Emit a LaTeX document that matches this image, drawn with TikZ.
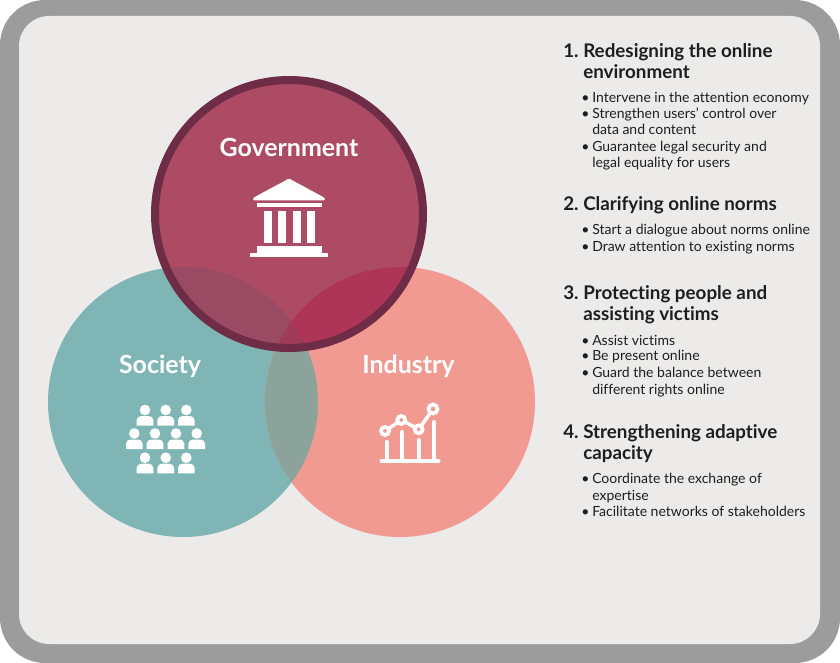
\documentclass[tikz,border=0pt]{standalone}
\usepackage{fontspec}
\setmainfont[Ligatures=NoCommon]{Lato}
\definecolor{framegray}{HTML}{9C9C9C}
\definecolor{panel}{HTML}{ECEBE9}
\definecolor{teal}{HTML}{7FB6B5}
\definecolor{salmon}{HTML}{F09A92}
\definecolor{gov}{HTML}{AD4A64}
\definecolor{ring}{HTML}{6F2C46}
\definecolor{tealsalmon}{HTML}{8CA39B}
\definecolor{govteal}{HTML}{9A4A63}
\definecolor{govsalmon}{HTML}{AE3558}
\definecolor{govboth}{HTML}{A03C5A}
\definecolor{txt}{HTML}{1E1E1E}
\tikzset{
  circlabel/.style={text=white,font=\fontsize{18.7}{20}\selectfont\bfseries,anchor=base,inner sep=0pt},
  headtext/.style={text=txt,font=\fontsize{14.1}{15}\selectfont\bfseries,anchor=base west,inner sep=0pt},
  bodytext/.style={text=txt,font=\fontsize{10.5}{12}\selectfont,anchor=base west,inner sep=0pt},
  iconline/.style={draw=white,line width=3pt,line cap=round},
  dotring/.style={draw=white,line width=2.8pt,fill=salmon}
}
\newcommand{\person}[2]{%
  \fill[white] (#1,#2) circle (5.3);
  \fill[white] (#1-8.3,#2+15.6) -- (#1-8.3,#2+10) to[out=90,in=180] (#1-3.5,#2+6) -- (#1+3.5,#2+6) to[out=0,in=90] (#1+8.3,#2+10) -- (#1+8.3,#2+15.6) -- cycle;
}
\begin{document}
\begin{tikzpicture}[x=0.75pt,y=-0.75pt]
\useasboundingbox (0,0) rectangle (840,663);
\fill[white] (0,0) rectangle (840,663);
\fill[framegray,rounded corners=33.75pt] (0,0) rectangle (840,663);
\fill[panel,rounded corners=22.5pt] (19,16) rectangle (820,644);
% circles
\coordinate (cs) at (183,402);
\coordinate (ci) at (400,402);
\coordinate (cg) at (289,214);
\fill[teal] (cs) circle (135);
\fill[salmon] (ci) circle (135);
\begin{scope}
  \clip (cs) circle (135);
  \fill[tealsalmon] (ci) circle (135);
\end{scope}
\fill[gov] (cg) circle (134);
\begin{scope}
  \clip (cg) circle (134);
  \fill[govteal] (cs) circle (135);
  \fill[govsalmon] (ci) circle (135);
  \begin{scope}
    \clip (cs) circle (135);
    \fill[govboth] (ci) circle (135);
  \end{scope}
\end{scope}
\draw[ring,line width=6pt] (cg) circle (134);
\node[circlabel] (government) at (289,156.5) {Government};
\node[circlabel] (society) at (160,373.5) {Society};
\node[circlabel] (industry) at (408.5,373.5) {Industry};
% government icon
\fill[white,rounded corners=1pt] (289,178.5) -- (325,198) -- (325,200.5) -- (253,200.5) -- (253,198) -- cycle;
\fill[white] (257,203) rectangle (321.5,207);
\foreach \cx in {268,282,296.5,311} \fill[white] (\cx-4,211) rectangle (\cx+4,243);
\fill[white] (257,246) rectangle (322,253);
\fill[white] (250,253) rectangle (328,257);
% society icon
\foreach \px in {145,165.7,186.3} {\person{\px}{410}\person{\px}{457.7}}
\foreach \px in {134.3,155,176,196.7} {\person{\px}{433.5}}
% industry icon
\draw[iconline] (381.5,461) -- (438.5,461);
\draw[iconline] (386.7,461) -- (386.7,442);
\draw[iconline] (401.7,461) -- (401.7,432);
\draw[iconline] (418.7,461) -- (418.7,440);
\draw[iconline] (433.7,461) -- (433.7,422);
\draw[white,line width=2.6pt] (385,431) -- (401.3,420) -- (418.7,429.3) -- (433,409);
\draw[dotring] (385,431) circle (4);
\draw[dotring] (401.3,420) circle (4);
\draw[dotring] (418.7,429.3) circle (4);
\draw[dotring] (433,409) circle (4.5);
% section 1
\node[headtext] (n1) at (563,57.5) {1.};
\node[headtext] (h1a) at (583,57.5) {Redesigning the online};
\node[headtext] (h1b) at (583,78.5) {environment};
\node[bodytext] (b1a) at (581,102.5) {•};
\node[bodytext] (t1a) at (592,102.5) {Intervene in the attention economy};
\node[bodytext] (b1b) at (581,118.5) {•};
\node[bodytext] (t1b) at (592,118.5) {Strengthen users' control over};
\node[bodytext] (t1c) at (592,134.5) {data and content};
\node[bodytext] (b1c) at (581,151.5) {•};
\node[bodytext] (t1d) at (592,151.5) {Guarantee legal security and};
\node[bodytext] (t1e) at (592,167.5) {legal equality for users};
% section 2
\node[headtext] (n2) at (563,210.5) {2.};
\node[headtext] (h2a) at (583,210.5) {Clarifying online norms};
\node[bodytext] (b2a) at (581,234.5) {•};
\node[bodytext] (t2a) at (592,234.5) {Start a dialogue about norms online};
\node[bodytext] (b2b) at (581,251.5) {•};
\node[bodytext] (t2b) at (592,251.5) {Draw attention to existing norms};
% section 3
\node[headtext] (n3) at (563,299.5) {3.};
\node[headtext] (h3a) at (583,299.5) {Protecting people and};
\node[headtext] (h3b) at (583,320.5) {assisting victims};
\node[bodytext] (b3a) at (581,345) {•};
\node[bodytext] (t3a) at (592,345) {Assist victims};
\node[bodytext] (b3b) at (581,361) {•};
\node[bodytext] (t3b) at (592,361) {Be present online};
\node[bodytext] (b3c) at (581,378) {•};
\node[bodytext] (t3c) at (592,378) {Guard the balance between};
\node[bodytext] (t3d) at (592,394) {different rights online};
% section 4
\node[headtext] (n4) at (563,438.5) {4.};
\node[headtext] (h4a) at (583,438.5) {Strengthening adaptive};
\node[headtext] (h4b) at (583,459.5) {capacity};
\node[bodytext] (b4a) at (581,483.5) {•};
\node[bodytext] (t4a) at (592,483.5) {Coordinate the exchange of};
\node[bodytext] (t4b) at (592,500) {expertise};
\node[bodytext] (b4b) at (581,516) {•};
\node[bodytext] (t4c) at (592,516) {Facilitate networks of stakeholders};
\end{tikzpicture}
\end{document}
